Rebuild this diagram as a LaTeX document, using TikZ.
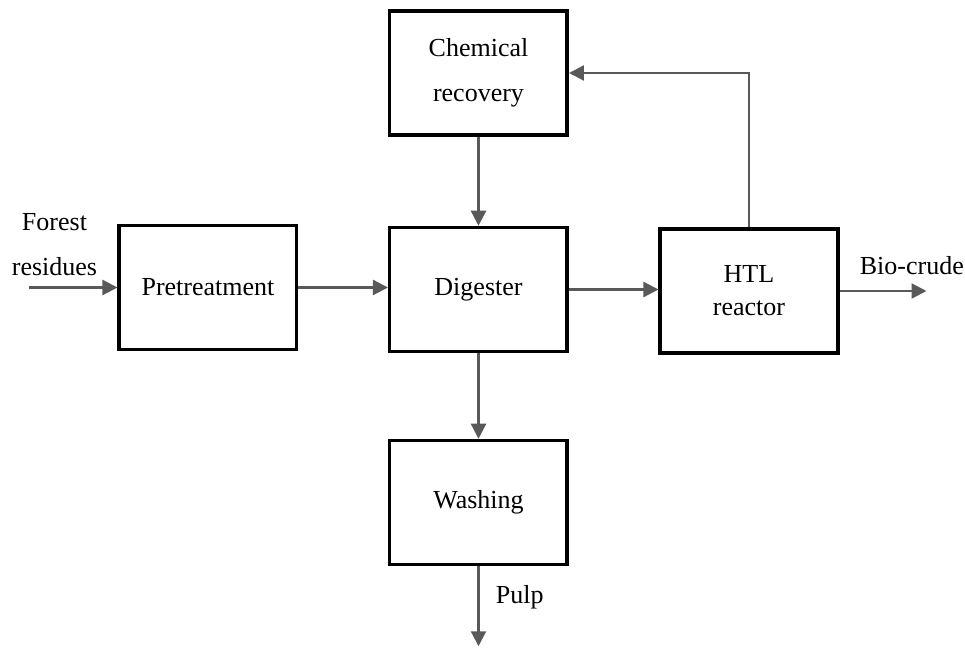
\documentclass[tikz,border=0pt]{standalone}
\usepackage{fontspec}
\setmainfont{Liberation Serif}
\usetikzlibrary{positioning}
\usetikzlibrary{arrows.meta}
\definecolor{flowgray}{RGB}{89,89,89}

\begin{document}
\begin{tikzpicture}
		[
			unit/.style = {rectangle, draw = black, line width = 0.07cm, minimum width = 3.55cm, minimum height = 2.48cm, align = center, font = \fontsize{14.8}{25.6}\selectfont},
			unittight/.style = {unit, font = \fontsize{14.8}{18.8}\selectfont},
			flow/.style = {draw = flowgray, line width = 0.045cm, -{Triangle[length = 0.3cm, width = 0.3cm]}},
			stream/.style = {align = center, inner sep = 0cm, font = \fontsize{14.8}{25.6}\selectfont},
		]
			%
			\useasboundingbox (-9.57,-7.17) rectangle (9.73,5.79);
			%
			\node (digester) [unit] {Digester};
			\node (pretreatment) [unit, left = 1.79cm of digester, yshift = 0.04cm] {Pretreatment};
			\node (htl) [unittight, right = 1.79cm of digester, yshift = -0.03cm] {HTL\\reactor};
			\node (chemical) [unit, above = 1.78cm of digester] {Chemical\\recovery};
			\node (washing) [unit, below = 1.71cm of digester] {Washing};
			%
			\coordinate [left = 1.76cm of pretreatment] (feed);
			\coordinate [right = 1.74cm of htl] (product);
			\coordinate [below = 1.6cm of washing] (pulpout);
			%
			\node (feedlabel) [stream, anchor = south] at ([xshift = 0.5cm, yshift = 0.22cm] feed) {Forest\\residues};
			\node (productlabel) [stream, anchor = base west] at ([xshift = 0.4cm, yshift = 0.32cm] htl.east) {Bio-crude};
			\node (pulplabel) [stream, anchor = base west] at ([xshift = 0.34cm, yshift = -0.74cm] washing.south) {Pulp};
			%
			\draw [flow] (feed) -- (pretreatment);
			\draw [flow] (pretreatment.east) -- (pretreatment.east -| digester.west);
			\draw [flow] (digester.east) -- (digester.east -| htl.west);
			\draw [flow] (htl) -- (product);
			\draw [flow] (chemical) -- (digester);
			\draw [flow] (htl.north) |- (chemical.east);
			\draw [flow] (digester) -- (washing);
			\draw [flow] (washing) -- (pulpout);
			%
		\end{tikzpicture}
\end{document}
